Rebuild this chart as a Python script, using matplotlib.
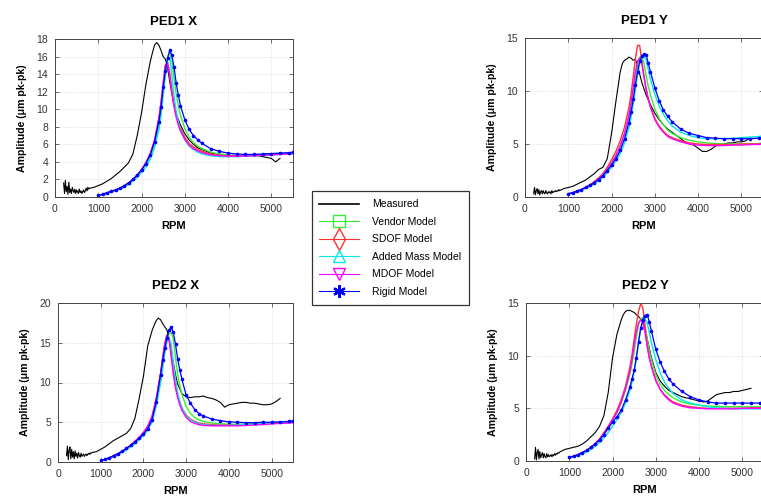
import matplotlib
matplotlib.use("Agg")
import matplotlib.pyplot as plt
from matplotlib.lines import Line2D

plt.rcParams['font.family'] = ['Liberation Sans', 'DejaVu Sans']

# ---------------- data ----------------
RPM_MODEL = [1000, 1100, 1200, 1300, 1400, 1500, 1600, 1700, 1800, 1900, 2000, 2100, 2200, 2300,
             2400, 2450, 2500, 2550, 2600, 2650, 2700, 2750, 2800, 2850, 2900, 3000, 3100, 3200,
             3300, 3400, 3600, 3800, 4000, 4200, 4400, 4600, 4800, 5000, 5200, 5400, 5500]

RPM_MEAS = [200, 220, 240, 260, 280, 300, 320, 340, 360, 380, 400, 420, 440, 460, 480, 500, 520,
            540, 560, 580, 600, 620, 640, 660, 680, 700, 720, 740, 760, 780, 800,
            900, 1000, 1100, 1200, 1300, 1400, 1500, 1600, 1700, 1800, 1900, 2000, 2100, 2200,
            2250, 2300, 2350, 2400, 2450, 2500, 2550, 2600, 2650, 2700, 2750, 2800,
            2900, 3000, 3100, 3200, 3300, 3400, 3500, 3600, 3700, 3800, 3900, 4000, 4100, 4200,
            4300, 4400, 4500, 4600, 4700, 4800, 4900, 5000, 5100, 5200]

# PED1 X
P1X_MEAS = [1.6, 0.4, 1.9, 0.6, 1.2, 0.3, 1.7, 0.5, 0.9, 0.4, 1.1, 0.7, 0.5, 0.9, 0.4, 0.8, 0.6,
            0.4, 0.9, 0.5, 0.7, 0.4, 0.6, 0.8, 0.5, 0.7, 1.0, 0.7, 1.1, 0.9, 1.0,
            1.1, 1.3, 1.5, 1.8, 2.1, 2.5, 2.9, 3.4, 3.9, 4.9, 7.0, 9.6, 12.8, 15.4,
            16.4, 17.3, 17.6, 17.3, 16.7, 16.0, 15.7, 14.8, 13.2, 11.8, 10.5, 9.5,
            8.2, 7.2, 6.5, 6.0, 5.6, 5.4, 5.2, 5.0, 4.9, 4.8, 4.7, 4.6, 4.7, 4.7,
            4.7, 4.7, 4.7, 4.7, 4.7, 4.6, 4.5, 4.4, 4.0, 4.4]
P1X_VENDOR = [0.2, 0.3, 0.45, 0.6, 0.8, 1.0, 1.25, 1.55, 1.95, 2.4, 3.0, 3.7, 4.6, 6.0, 8.2, 9.8,
              12.0, 14.0, 15.8, 16.5, 15.6, 13.6, 11.8, 10.4, 9.3, 7.8, 6.8, 6.2, 5.8, 5.5, 5.1,
              4.9, 4.8, 4.75, 4.75, 4.8, 4.85, 4.9, 4.95, 5.0, 5.05]
P1X_SDOF = [0.2, 0.3, 0.45, 0.6, 0.8, 1.0, 1.25, 1.6, 2.0, 2.5, 3.1, 3.9, 4.9, 6.5, 9.0, 10.8,
            13.0, 15.0, 15.4, 14.2, 12.2, 10.6, 9.4, 8.5, 7.8, 6.8, 6.1, 5.7, 5.4, 5.2, 4.9,
            4.75, 4.7, 4.7, 4.7, 4.75, 4.8, 4.85, 4.9, 4.95, 5.0]
P1X_ADDED = [0.15, 0.25, 0.4, 0.55, 0.7, 0.9, 1.1, 1.4, 1.8, 2.2, 2.8, 3.4, 4.3, 5.6, 7.6, 9.2,
             11.5, 13.8, 15.6, 15.9, 14.0, 11.5, 9.8, 8.6, 7.6, 6.5, 5.8, 5.4, 5.1, 4.9, 4.7,
             4.6, 4.6, 4.6, 4.65, 4.7, 4.75, 4.8, 4.85, 4.9, 4.95]
P1X_MDOF = [0.2, 0.3, 0.45, 0.6, 0.8, 1.0, 1.25, 1.6, 2.0, 2.5, 3.1, 3.9, 4.9, 6.4, 8.9, 10.7,
            12.9, 15.0, 15.2, 13.8, 11.9, 10.3, 9.1, 8.2, 7.5, 6.6, 5.9, 5.5, 5.25, 5.05, 4.8,
            4.7, 4.65, 4.65, 4.65, 4.7, 4.75, 4.8, 4.85, 4.9, 4.95]
P1X_RIGID = [0.2, 0.3, 0.5, 0.65, 0.8, 1.0, 1.3, 1.6, 2.0, 2.5, 3.1, 3.8, 4.8, 6.3, 8.6, 10.2,
             12.5, 14.3, 15.8, 16.7, 16.2, 14.8, 13.0, 11.6, 10.4, 8.8, 7.7, 7.0, 6.5, 6.1, 5.5,
             5.2, 5.0, 4.9, 4.85, 4.85, 4.9, 4.95, 5.0, 5.05, 5.1]

# PED1 Y
P1Y_MEAS = [0.3, 0.9, 0.2, 0.6, 0.8, 0.3, 0.7, 0.2, 0.5, 0.6, 0.3, 0.6, 0.4, 0.3, 0.6, 0.4, 0.3,
            0.5, 0.4, 0.5, 0.3, 0.6, 0.4, 0.5, 0.5, 0.6, 0.5, 0.6, 0.55, 0.7, 0.6,
            0.8, 0.9, 1.0, 1.2, 1.4, 1.6, 1.9, 2.2, 2.6, 2.8, 3.6, 6.0, 9.0, 11.8,
            12.6, 12.9, 13.0, 13.2, 13.1, 12.9, 13.0, 12.4, 11.6, 10.8, 10.2, 9.6,
            8.7, 7.9, 7.3, 6.8, 6.4, 6.1, 5.8, 5.5, 5.2, 5.0, 4.9, 4.6, 4.3, 4.3,
            4.5, 4.8, 4.9, 5.0, 5.1, 5.1, 5.2, 5.2, 5.3, 5.6]
P1Y_VENDOR = [0.3, 0.4, 0.55, 0.7, 0.9, 1.1, 1.4, 1.7, 2.1, 2.6, 3.2, 3.9, 4.8, 6.0, 7.6, 8.7,
              10.0, 11.4, 12.6, 13.2, 13.3, 12.6, 11.4, 10.4, 9.6, 8.3, 7.4, 6.8, 6.3, 6.0, 5.6,
              5.35, 5.2, 5.1, 5.05, 5.0, 5.0, 5.0, 5.0, 5.05, 5.1]
P1Y_SDOF = [0.3, 0.4, 0.55, 0.7, 0.9, 1.15, 1.45, 1.8, 2.2, 2.8, 3.5, 4.3, 5.3, 6.6, 8.4, 9.7,
            11.3, 13.0, 14.3, 14.3, 12.8, 11.3, 10.1, 9.2, 8.5, 7.4, 6.7, 6.2, 5.8, 5.6, 5.3,
            5.1, 5.0, 4.95, 4.95, 4.95, 4.95, 5.0, 5.0, 5.0, 5.05]
P1Y_ADDED = [0.25, 0.35, 0.5, 0.6, 0.8, 1.0, 1.25, 1.5, 1.85, 2.3, 2.8, 3.4, 4.1, 5.1, 6.5, 7.5,
             8.7, 10.1, 11.5, 12.6, 13.2, 13.3, 12.9, 12.0, 11.1, 9.7, 8.6, 7.8, 7.2, 6.7, 6.1,
             5.8, 5.6, 5.5, 5.5, 5.5, 5.55, 5.6, 5.65, 5.7, 5.8]
P1Y_MDOF = [0.3, 0.4, 0.55, 0.7, 0.9, 1.1, 1.4, 1.7, 2.1, 2.6, 3.2, 3.9, 4.8, 6.0, 7.7, 8.9,
            10.3, 11.8, 12.8, 13.1, 12.6, 11.4, 10.2, 9.3, 8.5, 7.3, 6.6, 6.1, 5.7, 5.5, 5.2,
            5.0, 4.9, 4.85, 4.85, 4.85, 4.9, 4.9, 4.95, 4.95, 5.0]
P1Y_RIGID = [0.3, 0.4, 0.55, 0.7, 0.9, 1.1, 1.35, 1.65, 2.0, 2.5, 3.0, 3.6, 4.4, 5.5, 7.0, 8.0,
             9.2, 10.6, 11.8, 12.8, 13.3, 13.5, 13.4, 12.6, 11.8, 10.3, 9.1, 8.2, 7.6, 7.1, 6.4,
             6.0, 5.8, 5.6, 5.55, 5.5, 5.5, 5.5, 5.5, 5.55, 5.6]

# PED2 X
P2X_MEAS = [0.8, 2.0, 0.3, 1.5, 1.9, 0.4, 1.6, 0.6, 1.3, 0.4, 1.4, 0.7, 1.1, 0.5, 1.2, 0.8, 0.6,
            1.1, 0.7, 0.9, 1.0, 0.7, 0.9, 1.0, 0.8, 1.0, 1.1, 0.95, 1.15, 1.1, 1.2,
            1.3, 1.6, 1.9, 2.3, 2.7, 3.0, 3.3, 3.6, 4.2, 5.5, 8.0, 10.8, 14.6, 16.5,
            17.2, 17.8, 18.1, 17.9, 17.4, 17.0, 16.6, 15.5, 14.0, 12.5, 11.0, 9.8,
            8.6, 8.2, 8.1, 8.2, 8.2, 8.3, 8.1, 8.0, 7.8, 7.5, 6.9, 7.2, 7.3, 7.4,
            7.5, 7.5, 7.4, 7.4, 7.3, 7.2, 7.2, 7.3, 7.6, 8.0]
P2X_VENDOR = [0.2, 0.3, 0.5, 0.75, 1.0, 1.3, 1.65, 2.05, 2.5, 3.0, 3.5, 4.2, 5.2, 7.2, 10.2, 12.0,
              13.8, 15.2, 16.1, 16.3, 15.4, 13.2, 11.0, 9.6, 8.5, 7.0, 6.1, 5.6, 5.3, 5.1, 4.9,
              4.8, 4.75, 4.75, 4.8, 4.85, 4.9, 4.95, 5.0, 5.05, 5.1]
P2X_SDOF = [0.2, 0.3, 0.5, 0.75, 1.0, 1.3, 1.7, 2.1, 2.6, 3.1, 3.7, 4.5, 5.7, 8.0, 11.2, 13.2,
            15.0, 16.0, 15.6, 13.6, 11.4, 9.6, 8.4, 7.5, 6.8, 5.9, 5.4, 5.1, 4.9, 4.8, 4.7,
            4.65, 4.65, 4.65, 4.7, 4.75, 4.8, 4.85, 4.9, 4.95, 5.0]
P2X_ADDED = [0.15, 0.25, 0.45, 0.65, 0.9, 1.2, 1.5, 1.9, 2.3, 2.8, 3.3, 4.0, 5.0, 7.0, 10.0, 11.8,
             13.8, 15.2, 15.6, 14.8, 12.4, 10.3, 8.7, 7.6, 6.8, 5.8, 5.3, 5.0, 4.8, 4.7, 4.6,
             4.6, 4.6, 4.65, 4.7, 4.75, 4.8, 4.85, 4.9, 4.95, 5.0]
P2X_MDOF = [0.2, 0.3, 0.5, 0.75, 1.0, 1.3, 1.7, 2.1, 2.6, 3.1, 3.7, 4.5, 5.7, 8.0, 11.0, 13.0,
            14.8, 15.8, 15.3, 13.2, 11.0, 9.3, 8.1, 7.2, 6.5, 5.6, 5.1, 4.85, 4.7, 4.6, 4.55,
            4.55, 4.55, 4.55, 4.6, 4.65, 4.7, 4.8, 4.85, 4.9, 4.95]
P2X_RIGID = [0.2, 0.35, 0.55, 0.8, 1.05, 1.35, 1.7, 2.1, 2.5, 3.0, 3.5, 4.2, 5.3, 7.6, 11.0, 12.8,
             14.3, 15.6, 16.6, 17.0, 16.3, 14.8, 13.0, 11.6, 10.4, 8.4, 7.4, 6.6, 6.1, 5.8, 5.4,
             5.2, 5.05, 5.0, 4.95, 4.95, 5.0, 5.0, 5.05, 5.1, 5.2]

# PED2 Y
P2Y_MEAS = [0.2, 1.3, 0.1, 0.8, 1.1, 0.2, 0.9, 0.3, 0.6, 0.8, 0.3, 0.7, 0.4, 0.3, 0.7, 0.4, 0.6,
            0.4, 0.5, 0.6, 0.4, 0.6, 0.5, 0.7, 0.55, 0.7, 0.65, 0.8, 0.75, 0.85, 0.9,
            1.1, 1.2, 1.3, 1.4, 1.6, 1.9, 2.3, 2.7, 3.3, 4.3, 6.5, 9.8, 12.0, 13.4,
            13.9, 14.2, 14.3, 14.3, 14.2, 14.1, 13.9, 13.7, 13.5, 13.2, 12.6, 11.6,
            9.8, 8.4, 7.6, 7.1, 6.7, 6.5, 6.3, 6.1, 6.0, 5.9, 5.8, 5.7, 5.6, 5.7,
            6.0, 6.3, 6.4, 6.5, 6.5, 6.6, 6.6, 6.7, 6.8, 6.9]
P2Y_VENDOR = [0.35, 0.45, 0.6, 0.8, 1.0, 1.3, 1.65, 2.05, 2.6, 3.2, 3.9, 4.6, 5.5, 6.7, 8.2, 9.2,
              10.4, 11.8, 12.9, 13.5, 13.6, 12.9, 11.6, 10.5, 9.6, 8.2, 7.3, 6.7, 6.3, 6.0, 5.6,
              5.4, 5.3, 5.2, 5.2, 5.15, 5.15, 5.15, 5.15, 5.15, 5.2]
P2Y_SDOF = [0.35, 0.45, 0.6, 0.8, 1.0, 1.3, 1.65, 2.1, 2.7, 3.3, 4.0, 4.8, 5.8, 7.1, 8.9, 10.1,
            11.6, 13.0, 14.2, 14.9, 14.6, 12.8, 11.0, 9.8, 8.9, 7.6, 6.8, 6.3, 5.9, 5.6, 5.3,
            5.15, 5.05, 5.0, 5.0, 5.0, 5.0, 5.0, 5.05, 5.05, 5.1]
P2Y_ADDED = [0.3, 0.4, 0.5, 0.65, 0.85, 1.1, 1.4, 1.75, 2.2, 2.7, 3.3, 3.9, 4.6, 5.5, 6.7, 7.5,
             8.5, 9.8, 11.2, 12.5, 13.3, 13.5, 13.1, 12.2, 11.2, 9.6, 8.4, 7.5, 6.9, 6.4, 5.8,
             5.5, 5.3, 5.15, 5.05, 5.0, 4.95, 4.95, 4.95, 4.95, 4.95]
P2Y_MDOF = [0.35, 0.45, 0.6, 0.8, 1.0, 1.3, 1.65, 2.05, 2.6, 3.2, 3.9, 4.6, 5.6, 6.9, 8.5, 9.6,
            11.0, 12.3, 13.1, 13.4, 13.2, 12.2, 10.9, 9.8, 9.0, 7.7, 6.8, 6.2, 5.8, 5.5, 5.2,
            5.05, 5.0, 4.95, 4.95, 4.95, 4.95, 5.0, 5.0, 5.0, 5.05]
P2Y_RIGID = [0.35, 0.45, 0.6, 0.8, 1.0, 1.3, 1.6, 2.0, 2.5, 3.1, 3.7, 4.2, 4.8, 5.8, 7.0, 7.8,
             8.6, 9.8, 11.3, 12.6, 13.4, 13.8, 13.9, 13.2, 12.3, 10.6, 9.4, 8.5, 7.8, 7.3, 6.6,
             6.1, 5.8, 5.6, 5.5, 5.5, 5.5, 5.5, 5.5, 5.5, 5.5]

TITLES = ["PED1 X", "PED1 Y", "PED2 X", "PED2 Y"]
YTICKS = [[0, 2, 4, 6, 8, 10, 12, 14, 16, 18], [0, 5, 10, 15], [0, 5, 10, 15, 20], [0, 5, 10, 15]]
XTICKS = [0, 1000, 2000, 3000, 4000, 5000]
SERIES_NAMES = ["Measured", "Vendor Model", "SDOF Model", "Added Mass Model", "MDOF Model", "Rigid Model"]

PANELS = [
    (P1X_MEAS, P1X_VENDOR, P1X_SDOF, P1X_ADDED, P1X_MDOF, P1X_RIGID),
    (P1Y_MEAS, P1Y_VENDOR, P1Y_SDOF, P1Y_ADDED, P1Y_MDOF, P1Y_RIGID),
    (P2X_MEAS, P2X_VENDOR, P2X_SDOF, P2X_ADDED, P2X_MDOF, P2X_RIGID),
    (P2Y_MEAS, P2Y_VENDOR, P2Y_SDOF, P2Y_ADDED, P2Y_MDOF, P2Y_RIGID),
]

# ---------------- style ----------------
COLORS = ["black", "#33ee33", "#ff3333", "#00e8e8", "#ff00ff", "#0000ff"]
W, H = 761, 497
AX_RECTS = [
    (55, 39, 238, 158),
    (525, 38, 238, 159),
    (58, 303, 235, 159),
    (526, 303, 238, 158),
]

fig = plt.figure(figsize=(W / 100, H / 100), dpi=100)

for i, rect in enumerate(AX_RECTS):
    l, t, w, h = rect
    ax = fig.add_axes([l / W, 1 - (t + h) / H, w / W, h / H])
    meas, vend, sdof, added, mdof, rigid = PANELS[i]
    ax.plot(RPM_MEAS, meas, color=COLORS[0], lw=0.8, zorder=2)
    ax.plot(RPM_MODEL, vend, color=COLORS[1], lw=1.0, zorder=3)
    ax.plot(RPM_MODEL, sdof, color=COLORS[2], lw=1.0, zorder=3)
    ax.plot(RPM_MODEL, added, color=COLORS[3], lw=1.0, zorder=3)
    ax.plot(RPM_MODEL, mdof, color=COLORS[4], lw=1.0, zorder=3)
    ax.plot(RPM_MODEL, rigid, color=COLORS[5], lw=0.9, marker='o', ms=2.6,
            markeredgewidth=0, zorder=4)
    ax.set_xlim(0, 5500)
    yt = YTICKS[i]
    ax.set_ylim(yt[0], yt[-1])
    ax.set_xticks(XTICKS)
    ax.set_yticks(yt)
    ax.tick_params(direction='in', length=3, width=0.5, labelsize=7.5, colors='#333333',
                   top=True, right=True, pad=5)
    ax.grid(True, linestyle=':', color='#d4d4d4', linewidth=0.6)
    for s in ax.spines.values():
        s.set_linewidth(0.7)
        s.set_color('#444444')
    ax.set_title(TITLES[i], fontsize=9.5, fontweight='bold', pad=10)
    ax.set_xlabel("RPM", fontsize=8, fontweight='bold', labelpad=5)
    ax.set_ylabel("Amplitude (μm pk-pk)", fontsize=7.6, fontweight='bold', labelpad=7)

# legend
handles = [
    Line2D([], [], color=COLORS[0], lw=1.2),
    Line2D([], [], color=COLORS[1], lw=0.8, marker='s', ms=8, mfc='none', mew=1.0),
    Line2D([], [], color=COLORS[2], lw=0.8, marker='d', ms=11, mfc='none', mew=1.0),
    Line2D([], [], color=COLORS[3], lw=0.8, marker='^', ms=8, mfc='none', mew=1.0),
    Line2D([], [], color=COLORS[4], lw=0.8, marker='v', ms=8, mfc='none', mew=1.0),
    Line2D([], [], color=COLORS[5], lw=0.8, marker=(6, 2, 0), ms=9, mew=1.6),
]
leg = fig.legend(handles, SERIES_NAMES, loc='center',
                 bbox_to_anchor=((313 + 468) / 2 / W, 1 - (190 + 306) / 2 / H),
                 fontsize=7.5, frameon=True, fancybox=False, edgecolor='black',
                 handlelength=3.8, handletextpad=1.3, labelspacing=0.72,
                 borderpad=0.75, borderaxespad=0)
leg.get_frame().set_linewidth(0.9)

fig.savefig("out.png", dpi=100)
